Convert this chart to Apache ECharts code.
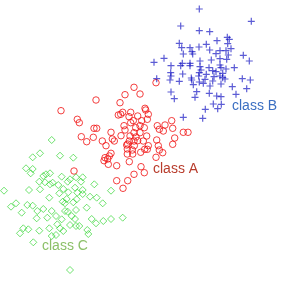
<!DOCTYPE html>
<html>
<head>
<meta charset="utf-8">
<script src="https://cdn.jsdelivr.net/npm/echarts@6/dist/echarts.min.js"></script>
<style>
  html, body { margin: 0; padding: 0; background: #fff; }
  #chart { width: 284px; height: 284px; }
</style>
</head>
<body>
<div id="chart"></div>
<script>
// point positions (x right, y down)
const classA = [
  [156, 82.7], [134, 87.3], [125, 94.7], [140, 94], [96, 100], [120, 102.7], [61, 110.7],
  [122.7, 112.3], [130.7, 112.3], [145.7, 110], [118.3, 115], [120.7, 114.3], [129, 116.7],
  [137.7, 116], [148.3, 114.3], [77.3, 119.3], [79.3, 122.7], [133.3, 120.7], [141.7, 120.7],
  [147.3, 119.3], [171.7, 120.7], [124, 125.7], [130.7, 122.7], [140, 125.7], [157.3, 125.7],
  [165, 125], [94, 128.3], [96.7, 128.3], [135.7, 127.7], [144.3, 127.7], [159.3, 129.3],
  [172.7, 128.3], [163.3, 131], [111, 132.3], [134, 132.7], [140, 132.7], [183.3, 132.3],
  [188, 132.3], [81.3, 136.7], [93.3, 137.3], [121, 135.7], [130, 136], [146.7, 136],
  [102.3, 141], [112.3, 139], [114.3, 141], [129.3, 141], [134, 141], [137.7, 140.7],
  [143.3, 141], [156.7, 140], [174.7, 138], [86.7, 141.7], [106, 145.7], [127.7, 144],
  [134.3, 145.7], [148.3, 145.7], [158.3, 145.7], [172.7, 144.3], [127.3, 149], [132.3, 150],
  [144.7, 149.3], [147.3, 149.3], [159.3, 150], [140.7, 152.3], [111, 153.3], [127.3, 154],
  [132.7, 154], [162.7, 152.7], [109.3, 156], [105, 157.7], [156, 157.3], [104, 160.7],
  [107.7, 159], [129.3, 161.7], [108.3, 164.3], [116.7, 165.7], [141, 166.7], [74, 171],
  [144.3, 172.7], [134, 174.3], [116.7, 180.7], [127.7, 180.7], [123, 188.3], [145, 108.3],
  [126.7, 145], [136, 137], [125, 130]
];
const classB = [
  [199.3, 9], [180.7, 26], [251.3, 21.3], [199.3, 30.7], [209.7, 31.7], [227.3, 37.3],
  [229.3, 39.3], [217, 40.7], [227.7, 43.7], [179.3, 43.3], [181.7, 47.7], [190, 47.7],
  [199, 47], [206.3, 44.3], [209.7, 50], [220, 50.7], [226, 50.7], [231, 48.7], [192, 51.7],
  [192.7, 54], [183.3, 54], [216, 53.7], [228.3, 55], [243.3, 55.3], [164, 58.3], [154, 62.3],
  [182.3, 63.3], [190, 63.3], [200, 61], [211.3, 60], [220, 58.7], [226.7, 59.3], [249.3, 61],
  [171, 65.7], [180.7, 65.7], [190, 65.7], [200, 66.7], [209, 67.7], [220, 65], [221, 67.7],
  [234.3, 67.7], [226, 69], [201, 70], [212.7, 70.7], [170.7, 72.7], [182.7, 74], [199.3, 72.7],
  [206.3, 74.3], [216, 71.7], [222.7, 73.3], [171, 76], [191.3, 78], [198.7, 76], [205, 79.3],
  [214, 76.7], [220, 76], [222.7, 77.7], [156.7, 78.7], [170, 80], [179.3, 81.3], [191.7, 80],
  [199.3, 82], [212.7, 81], [225, 79], [242.3, 78.7], [250.3, 80], [193.3, 84.7], [203.3, 83.3],
  [221, 84], [210, 86], [232.3, 86.7], [246.7, 88.7], [171, 92], [196.7, 91.7], [209.3, 93.3],
  [216.7, 96], [221, 96.7], [236, 94.3], [174.3, 98.7], [195, 97.3], [213.3, 104], [221.3, 104.3],
  [205.3, 109.3], [217.7, 108.7], [183.3, 117.3], [202.7, 118.3]
];
const classC = [
  [51.7, 140], [40, 153.3], [32.7, 157.3], [60, 155.7], [73.3, 157.7], [26, 168.3], [32.7, 169],
  [30.7, 173.3], [43.3, 176], [46, 174.3], [50, 173.3], [61.7, 176.7], [70, 179.3], [76, 177.3],
  [82.7, 177.3], [39.3, 181.7], [45, 182.3], [52.7, 182.7], [67.7, 181.7], [81, 181.7],
  [58.3, 185], [50, 184.3], [94.3, 184.3], [40, 189.3], [29, 190], [63.3, 189], [75, 187.7],
  [82.7, 190], [4, 190.7], [111, 190.7], [59.3, 193.3], [68.3, 192.3], [77.3, 192.7],
  [82.7, 194], [49.3, 197.7], [90, 196.7], [96.7, 197.7], [66.7, 199], [76.7, 199.3],
  [62.7, 201.7], [65, 203.3], [16, 203.3], [11, 206.7], [27.3, 205], [32.7, 205.7],
  [102.7, 203.3], [73.3, 202.3], [43.3, 209], [37.3, 211], [51.7, 211], [76, 210], [21.7, 212.7],
  [86.7, 207.7], [65, 211], [67.7, 211.7], [56, 216], [71.7, 216], [47.3, 217.7], [36.7, 218.3],
  [61.7, 219.3], [75, 219], [91.7, 219], [103.3, 221], [111, 219], [122.7, 217.7], [96, 223.3],
  [57.3, 224.3], [70, 225], [76, 226], [79.3, 226], [49.3, 228.3], [60, 228.3], [23.3, 228.3],
  [28.3, 229.3], [39.3, 230.7], [87.3, 230], [63.3, 231], [20, 233.3], [88.3, 234], [51.7, 236],
  [56, 235], [33.3, 242.3], [70, 270]
];

const chart = echarts.init(document.getElementById('chart'));

const crossPath = 'path://M5,0 L5,10 M0,5 L10,5';

const option = {
  animation: false,
  grid: { left: 0, right: 0, top: 0, bottom: 0 },
  xAxis: { type: 'value', min: 0, max: 284, show: false },
  yAxis: { type: 'value', min: 0, max: 284, inverse: true, show: false },
  series: [
    {
      name: 'class A',
      type: 'scatter',
      symbol: 'circle',
      symbolSize: 6.5,
      data: classA,
      itemStyle: { color: 'rgba(0,0,0,0)', borderColor: '#f01010', borderWidth: 1 }
    },
    {
      name: 'class B',
      type: 'scatter',
      symbol: crossPath,
      symbolSize: 7,
      data: classB,
      itemStyle: { color: 'rgba(0,0,0,0)', borderColor: 'rgba(0,0,190,0.8)', borderWidth: 1.2 }
    },
    {
      name: 'class C',
      type: 'scatter',
      symbol: 'diamond',
      symbolSize: 7,
      data: classC,
      itemStyle: { color: 'rgba(0,0,0,0)', borderColor: 'rgba(30,210,30,0.8)', borderWidth: 1 }
    }
  ],
  graphic: [
    { type: 'text', left: 232, top: 99, style: { text: 'class B', font: '14px "Liberation Sans", Arial', fill: '#3b6fc2' } },
    { type: 'text', left: 153, top: 162, style: { text: 'class A', font: '14px "Liberation Sans", Arial', fill: '#b83c2c' } },
    { type: 'text', left: 42, top: 239, style: { text: 'class C', font: '14px "Liberation Sans", Arial', fill: '#8cc068' } }
  ]
};

chart.setOption(option);
</script>
</body>
</html>
